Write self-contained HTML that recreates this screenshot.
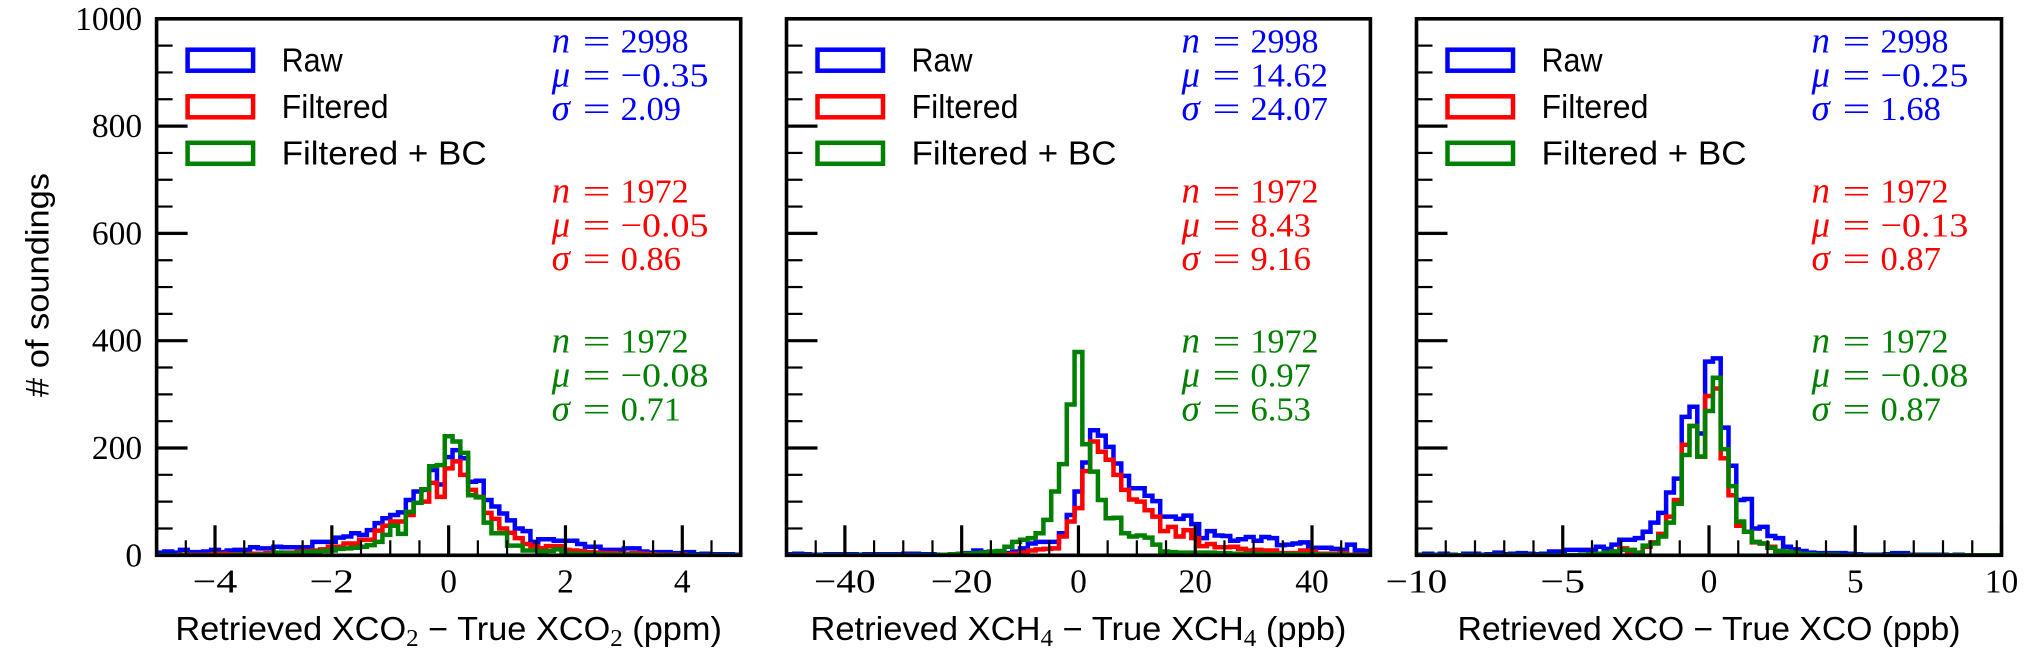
<!DOCTYPE html>
<html lang="en">
<head>
<meta charset="utf-8">
<title>Retrieval error histograms</title>
<style>
html,body{margin:0;padding:0;background:#fff;}
svg{display:block;}
text{white-space:pre;}
</style>
</head>
<body>
<svg id="chart" xmlns="http://www.w3.org/2000/svg" width="2042" height="657" viewBox="0 0 2042 657"></svg>
<script>
// ---- data (bin counts, 75 bins per panel) ----
const xco2Raw = [5,7,5,10,6,6,7,10,6,9,10,10,15,13,13,16,15,15,15,15,25,25,25,33,35,41,38,47,60,69,75,80,103,119,122,159,132,183,196,181,137,139,103,91,78,65,50,45,25,30,30,27,27,27,21,16,16,10,10,10,13,13,7,5,6,6,4,4,6,2,3,2,2,2,1];
const xco2Filtered = [0,0,0,1,1,1,1,2,3,2,2,2,3,3,4,4,5,5,7,8,9,11,16,16,22,22,29,29,46,55,63,63,75,98,100,135,109,162,175,150,122,109,79,68,50,42,32,21,17,13,17,17,10,9,8,6,5,4,4,3,3,4,3,2,1,1,1,1,0,0,0,0,0,0,0];
const xco2Corrected = [0,0,0,0,0,0,0,0,0,0,1,1,0,1,1,5,4,4,5,6,7,8,9,12,13,14,16,19,25,38,55,40,81,98,123,166,168,222,212,191,112,108,61,41,41,18,18,9,9,7,8,11,4,3,3,2,2,1,1,1,1,1,0,0,0,0,0,0,0,0,0,0,0,0,0];

const xch4Raw = [2,3,2,1,1,2,2,1,2,1,2,2,2,2,2,3,3,2,2,1,1,2,3,4,9,6,3,3,4,7,13,22,25,25,25,41,75,119,173,233,223,202,171,148,125,125,111,101,72,72,68,74,58,32,45,37,36,27,30,34,27,34,32,19,20,22,24,10,14,14,12,10,20,9,8];
const xch4Filtered = [0,0,0,0,0,0,0,0,0,0,0,0,0,0,0,0,0,0,0,0,0,0,0,0,0,0,0,1,2,3,5,9,11,12,13,35,63,88,157,212,193,178,150,122,104,100,84,72,45,53,35,47,32,17,21,15,15,16,12,9,10,9,9,4,4,4,9,7,3,3,3,4,1,1,1];
const xch4Corrected = [0,0,0,0,0,0,0,0,0,0,0,0,0,0,0,0,0,0,0,0,1,2,3,3,4,5,7,8,16,25,29,32,41,66,119,170,281,379,207,156,103,69,70,41,35,37,33,20,7,6,5,5,5,5,5,4,4,3,3,3,3,2,2,2,2,2,2,2,1,1,1,1,0,0,0];

const xcoRaw = [1,3,1,3,1,0,3,3,1,2,5,2,3,4,3,2,3,7,7,10,10,10,10,16,12,20,29,29,32,44,61,79,117,143,258,277,227,361,367,238,167,103,105,50,53,36,32,16,11,8,5,4,4,4,4,3,2,1,1,1,2,4,4,1,1,1,1,1,0,1,0,0,0,0,0];
const xcoFiltered = [0,0,0,0,0,0,0,0,0,0,0,0,0,0,0,0,0,0,0,0,0,0,1,2,3,7,13,4,5,16,24,40,72,103,206,241,184,297,311,181,112,55,44,24,22,16,8,6,4,3,2,1,1,1,0,0,0,0,0,0,0,0,0,0,0,0,0,0,0,0,0,0,0,0,0];
const xcoCorrected = [0,0,0,0,0,0,0,0,0,0,0,0,0,0,0,0,0,0,0,0,0,1,2,3,5,7,10,10,4,18,22,35,61,96,187,241,184,269,331,198,129,63,44,25,22,14,8,7,5,3,2,1,1,1,0,0,0,0,0,0,0,0,0,0,0,0,0,0,0,0,0,0,0,0,0];

// printed statistics per series: [n, mu, sigma]
const xco2Stats = [["2998","−0.35","2.09"],["1972","−0.05","0.86"],["1972","−0.08","0.71"]];
const xch4Stats = [["2998","14.62","24.07"],["1972","8.43","9.16"],["1972","0.97","6.53"]];
const xcoStats  = [["2998","−0.25","1.68"],["1972","−0.13","0.87"],["1972","−0.08","0.87"]];

// axes
const yDomain = [0, 1000];
const yMajorTicks = [0,200,400,600,800,1000];
const yMinorStep = 50;
const xco2Domain = [-5, 5];
const xco2MajorTicks = [-4,-2,0,2,4];
const xco2MinorStep = 0.5;
const xch4Domain = [-50, 50];
const xch4MajorTicks = [-40,-20,0,20,40];
const xch4MinorStep = 5;
const xcoDomain = [-10, 10];
const xcoMajorTicks = [-10,-5,0,5,10];
const xcoMinorStep = 1;
const seriesLabels = ["Raw","Filtered","Filtered + BC"];

// ---- layout ----
const NS = "http://www.w3.org/2000/svg";
const svg = document.getElementById("chart");
const plotTop = 18.8, plotBottom = 555.3;
const colors = ["#0000ff","#ff0000","#008000"];
const SERIF = '"Liberation Serif","DejaVu Serif",serif';
const SANS = '"Liberation Sans","DejaVu Sans",sans-serif';

function el(tag, parent) {
  const e = document.createElementNS(NS, tag);
  parent.appendChild(e);
  return e;
}
function addText(parent, str, x, y, size, family, fill, anchor, len, italic) {
  const t = el("text", parent);
  t.setAttribute("x", x);
  t.setAttribute("y", y);
  t.setAttribute("font-size", size);
  t.setAttribute("font-family", family);
  t.setAttribute("fill", fill);
  if (anchor) t.setAttribute("text-anchor", anchor);
  if (italic) t.setAttribute("font-style", "italic");
  if (len) { t.setAttribute("textLength", len); t.setAttribute("lengthAdjust", "spacingAndGlyphs"); }
  t.textContent = str;
  return t;
}
function numWidth(s) {
  let w = 0;
  for (const c of s) w += c === "." ? 9.4 : c === "−" ? 27.5 : 17;
  return w;
}
function line(parent, x1, y1, x2, y2, w) {
  const l = el("line", parent);
  l.setAttribute("x1", x1); l.setAttribute("y1", y1);
  l.setAttribute("x2", x2); l.setAttribute("y2", y2);
  l.setAttribute("stroke", "#000");
  l.setAttribute("stroke-width", w);
  return l;
}
const yScale = v => plotBottom - (v - yDomain[0]) / (yDomain[1] - yDomain[0]) * (plotBottom - plotTop);

function drawPanel(cfg) {
  const g = el("g", svg);
  
  
  const xScale = v => cfg.left + (v - cfg.domain[0]) / (cfg.domain[1] - cfg.domain[0]) * (cfg.right - cfg.left);

  // clip
  const clip = el("clipPath", g);
  clip.setAttribute("id", "clip-" + cfg.name);
  const cr = el("rect", clip);
  cr.setAttribute("x", cfg.left); cr.setAttribute("y", plotTop);
  cr.setAttribute("width", cfg.right - cfg.left); cr.setAttribute("height", plotBottom - plotTop);

  // histograms
  cfg.series.forEach((vals, s) => {
    const n = vals.length;
    const bw = (cfg.domain[1] - cfg.domain[0]) / n;
    let d = "M" + xScale(cfg.domain[0]).toFixed(2) + " " + yScale(0).toFixed(2);
    vals.forEach((v, i) => {
      const x0 = xScale(cfg.domain[0] + i * bw).toFixed(2);
      const x1 = xScale(cfg.domain[0] + (i + 1) * bw).toFixed(2);
      const y = yScale(v).toFixed(2);
      d += "L" + x0 + " " + y + "L" + x1 + " " + y;
    });
    d += "L" + xScale(cfg.domain[1]).toFixed(2) + " " + yScale(0).toFixed(2);
    const p = el("path", g);
    p.setAttribute("d", d);
    p.setAttribute("fill", "none");
    p.setAttribute("stroke", colors[s]);
    p.setAttribute("stroke-width", 4.5);
    p.setAttribute("stroke-linejoin", "miter");
    p.setAttribute("clip-path", "url(#clip-" + cfg.name + ")");
    
    
  });

  // y ticks
  for (let v = yDomain[0]; v <= yDomain[1]; v += yMinorStep) {
    const major = yMajorTicks.includes(v);
    const t = line(g, cfg.left, yScale(v), cfg.left + (major ? 31 : 16), yScale(v), major ? 3.2 : 2.2);
    
    
    if (major && cfg.showY) {
      const lab = addText(g, String(v), cfg.left - 14.5, yScale(v) + 11, 33.5, SERIF, "#000", "end");
      
      
    }
  }
  // x ticks
  const steps = Math.round((cfg.domain[1] - cfg.domain[0]) / cfg.minorStep);
  for (let i = 0; i <= steps; i++) {
    const v = cfg.domain[0] + i * cfg.minorStep;
    const major = cfg.majorTicks.includes(v);
    if (!major && (i === 0 || i === steps)) continue;
    const t = line(g, xScale(v), plotBottom, xScale(v), plotBottom - (major ? 30 : 15), major ? 3.2 : 2.2);
    
    
  }
  cfg.majorTicks.forEach(v => {
    const s = v < 0 ? "−" + Math.abs(v) : String(v);
    const lab = addText(g, s, xScale(v), 592.7, 33.5, SERIF, "#000", "middle", v < 0 ? numWidth(s) : 0);
    
    
  });

  // frame
  const frame = el("rect", g);
  frame.setAttribute("x", cfg.left); frame.setAttribute("y", plotTop);
  frame.setAttribute("width", cfg.right - cfg.left); frame.setAttribute("height", plotBottom - plotTop);
  frame.setAttribute("fill", "none");
  frame.setAttribute("stroke", "#000");
  frame.setAttribute("stroke-width", 3.6);
  
  

  // legend
  const legendY = [49.7, 96.3, 142.8];
  const legendBase = [71.3, 118, 164.7];
  const legendLen = [61, 107, 205];
  seriesLabels.forEach((lab, i) => {
    const r = el("rect", g);
    r.setAttribute("x", cfg.left + 31);
    r.setAttribute("y", legendY[i]);
    r.setAttribute("width", 65.5);
    r.setAttribute("height", 21);
    r.setAttribute("fill", "none");
    r.setAttribute("stroke", colors[i]);
    r.setAttribute("stroke-width", 4.5);
    
    
    const t = addText(g, lab, cfg.left + 125, legendBase[i], 33, SANS, "#000", null, legendLen[i]);
    
    
  });

  // stats
  const statBase = [[52.7, 86.7, 120], [202.7, 236.7, 270], [352.7, 386.7, 420.7]];
  const symbols = ["n", "μ", "σ"];
  cfg.stats.forEach((row, s) => {
    row.forEach((val, r) => {
      const y = statBase[s][r];
      const sym = addText(g, symbols[r], cfg.left + 395, y, 37, SERIF, colors[s], null, 0, true);
      
      
      const eq = addText(g, "=", cfg.left + 426, y, 34, SERIF, colors[s], null, 28);
      
      
      const num = addText(g, val, cfg.left + 464, y, 34, SERIF, colors[s], null, numWidth(val));
      
      
    });
  });

  // x label
  const cx = (cfg.left + cfg.right) / 2;
  const xl = el("text", g);
  xl.setAttribute("x", cx - cfg.labelLen / 2);
  xl.setAttribute("y", 640);
  xl.setAttribute("font-size", 33);
  xl.setAttribute("font-family", SANS);
  xl.setAttribute("fill", "#000");
  xl.setAttribute("textLength", cfg.labelLen);
  xl.setAttribute("lengthAdjust", "spacingAndGlyphs");
  
  
  cfg.label.forEach(part => {
    const ts = el("tspan", xl);
    ts.textContent = part[0];
    if (part[1]) {
      ts.setAttribute("font-size", 24);
      ts.setAttribute("font-family", SERIF);
      ts.setAttribute("dy", 6);
    } else if (part[2]) {
      ts.setAttribute("dy", -6);
    }
  });
}

drawPanel({
  name: "xco2", left: 156.6, right: 740.7, domain: xco2Domain, majorTicks: xco2MajorTicks, minorStep: xco2MinorStep,
  series: [xco2Raw, xco2Filtered, xco2Corrected], stats: xco2Stats, showY: true, labelLen: 546.5,
  label: [["Retrieved XCO"], ["2", true], [" − True XCO", false, true], ["2", true], [" (ppm)", false, true]]
});
drawPanel({
  name: "xch4", left: 786.5, right: 1370.4, domain: xch4Domain, majorTicks: xch4MajorTicks, minorStep: xch4MinorStep,
  series: [xch4Raw, xch4Filtered, xch4Corrected], stats: xch4Stats, showY: false, labelLen: 536,
  label: [["Retrieved XCH"], ["4", true], [" − True XCH", false, true], ["4", true], [" (ppb)", false, true]]
});
drawPanel({
  name: "xco", left: 1416.5, right: 2001.5, domain: xcoDomain, majorTicks: xcoMajorTicks, minorStep: xcoMinorStep,
  series: [xcoRaw, xcoFiltered, xcoCorrected], stats: xcoStats, showY: false, labelLen: 503,
  label: [["Retrieved XCO − True XCO (ppb)"]]
});

// y axis title
const yTitle = addText(svg, "# of soundings", 0, 0, 32, SANS, "#000", "middle", 224);
yTitle.setAttribute("transform", "translate(48.5 285) rotate(-90)");


</script>
</body>
</html>
